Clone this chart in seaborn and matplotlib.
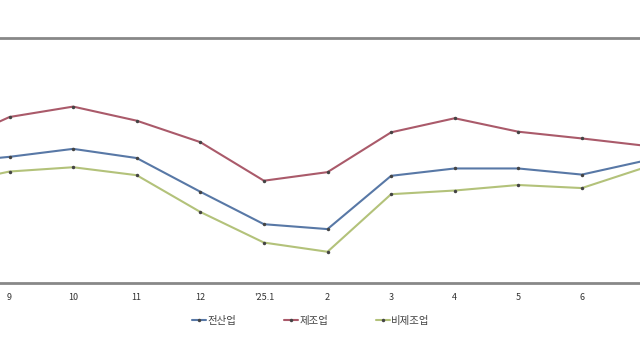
import matplotlib
matplotlib.use("Agg")
import matplotlib.pyplot as plt
import seaborn as sns
import pandas as pd

months = ["8", "9", "10", "11", "12", "'25.1", "2", "3", "4", "5", "6", "7"]
all_ind = [89.6, 90.6, 91.9, 90.4, 84.9, 79.6, 78.8, 87.5, 88.7, 88.7, 87.7, 90.0]
manuf = [92.4, 97.1, 98.8, 96.5, 93.0, 86.7, 88.1, 94.6, 96.9, 94.7, 93.6, 92.4]
nonmanuf = [86.0, 88.2, 88.9, 87.6, 81.6, 76.6, 75.1, 84.5, 85.1, 86.0, 85.5, 88.9]
series_names = ["전산업", "제조업", "비제조업"]

sns.set_theme(style="white")
plt.rcParams["font.family"] = ["Noto Sans CJK KR", "DejaVu Sans"]

rows = []
for name, vals in zip(series_names, [all_ind, manuf, nonmanuf]):
    for i, v in enumerate(vals):
        rows.append({"pos": i, "month": months[i], "value": v, "series": name})
df = pd.DataFrame(rows)

colors = {"전산업": "#5878a6", "제조업": "#aa5a6a", "비제조업": "#b3c27a"}

fig = plt.figure(figsize=(6.4, 3.6), dpi=100)
ax = fig.add_axes([0, 1 - 283 / 360, 1, (283 - 38) / 360])

sns.lineplot(data=df, x="pos", y="value", hue="series", palette=colors,
             marker="o", markersize=2.5, markeredgewidth=0, linewidth=1.5,
             ax=ax, legend=False)
for line in ax.lines:
    line.set_markerfacecolor("#444444")

visible = list(range(1, len(months) - 1))
ax.set_xticks(visible)
ax.set_xticklabels([months[i] for i in visible], fontsize=6.5, color="#333333")
sp = 63.6
ax.set_xlim(1 - 9.5 / sp, 1 + (640 - 9.5) / sp)
ax.set_ylim(70, 110)
ax.tick_params(axis="x", length=0, pad=7)
ax.set_yticks([])
ax.set_xlabel("")
ax.set_ylabel("")
for s in ["left", "right"]:
    ax.spines[s].set_visible(False)
for s in ["top", "bottom"]:
    ax.spines[s].set_visible(True)
    ax.spines[s].set_color("#888888")
    ax.spines[s].set_linewidth(2.0)

handles = [plt.Line2D([0], [0], color=colors[n], lw=1.5, marker="o", markersize=2.5,
                      markerfacecolor="#444444", markeredgewidth=0) for n in series_names]
fig.legend(handles, series_names, loc="center", bbox_to_anchor=(311 / 640, 1 - 321 / 360),
           ncol=3, frameon=False, fontsize=7.5, handlelength=1.3, handletextpad=0.15,
           columnspacing=4.6, labelcolor="#444444")

fig.savefig("out.png", dpi=100, facecolor="white")
